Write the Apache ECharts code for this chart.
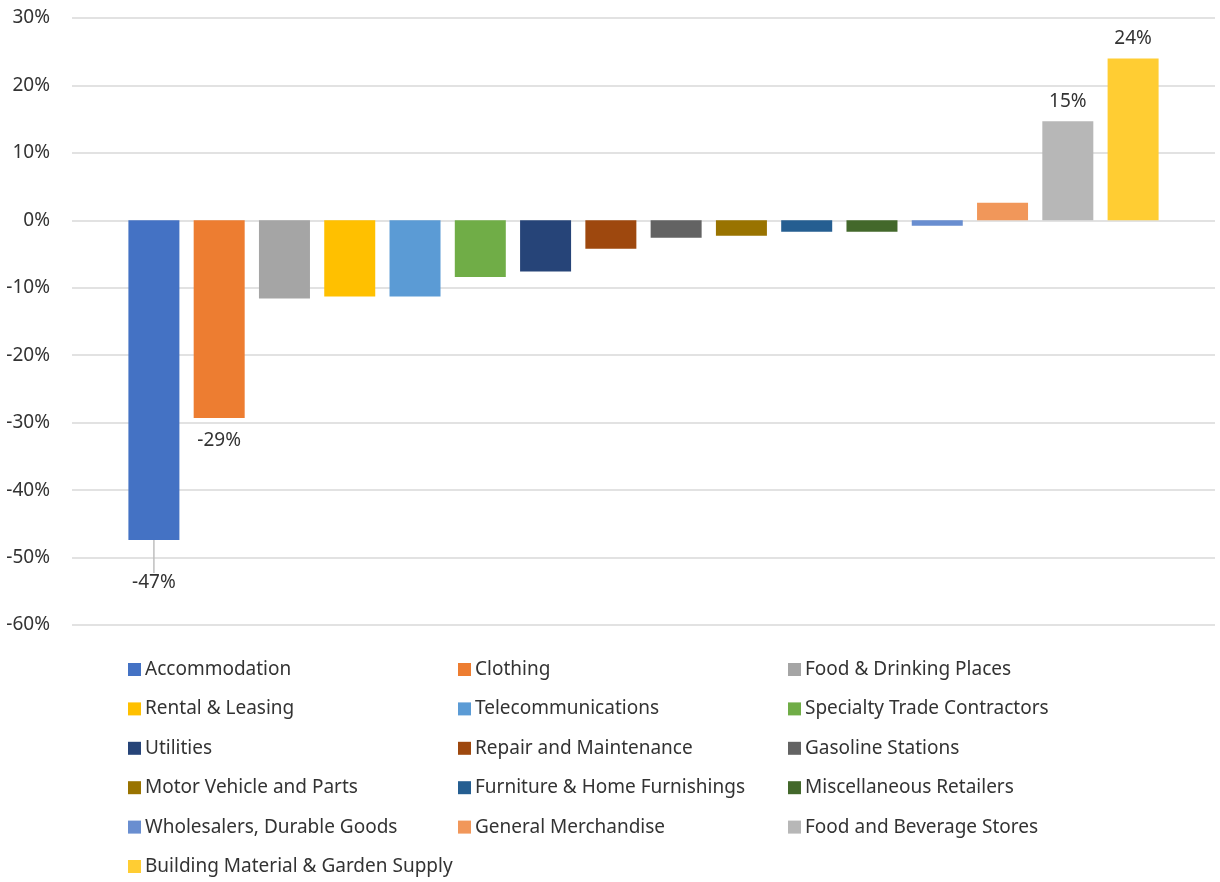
<!DOCTYPE html>
<html>
<head>
<meta charset="utf-8">
<script src="https://cdn.jsdelivr.net/npm/echarts@6/dist/echarts.min.js"></script>
<style>
  html, body { margin: 0; padding: 0; background: #fff; }
  #main { width: 1220px; height: 882px; }
</style>
</head>
<body>
<div id="main"></div>
<script>
// industries, sorted as in the chart
var names = ['Accommodation', 'Clothing', 'Food & Drinking Places', 'Rental & Leasing',
  'Telecommunications', 'Specialty Trade Contractors', 'Utilities', 'Repair and Maintenance',
  'Gasoline Stations', 'Motor Vehicle and Parts', 'Furniture & Home Furnishings',
  'Miscellaneous Retailers', 'Wholesalers, Durable Goods', 'General Merchandise',
  'Food and Beverage Stores', 'Building Material & Garden Supply'];
// percent change
var values = [-47.4, -29.3, -11.6, -11.3, -11.3, -8.4, -7.6, -4.2, -2.6, -2.3, -1.7, -1.7, -0.8, 2.6, 14.7, 24.0];
var colors = ['#4472C4', '#ED7D31', '#A5A5A5', '#FFC000', '#5B9BD5', '#70AD47', '#264478', '#9E480E',
  '#636363', '#997300', '#255E91', '#43682B', '#698ED0', '#F1975A', '#B7B7B7', '#FFCD33'];
// which bars get a data label
var labelled = ['Accommodation', 'Clothing', 'Food and Beverage Stores', 'Building Material & Garden Supply'];
var yTicks = { min: -60, max: 30, step: 10 };

var font = 'Noto Sans';
var txt = '#333333';

var series = names.map(function (n, i) {
  var s = {
    name: n,
    type: 'bar',
    data: [values[i]],
    barWidth: 51,
    barGap: '28%',
    itemStyle: { color: colors[i] },
    label: { show: false }
  };
  if (labelled.indexOf(n) >= 0) {
    s.label = {
      show: true,
      position: values[i] < 0 ? 'bottom' : 'top',
      distance: values[i] < 0 ? 13 : 10,
      fontFamily: font,
      fontSize: 19,
      color: txt,
      formatter: function (p) { return Math.round(p.value) + '%'; }
    };
  }
  if (i === 0) {
    s.labelLayout = { dy: 20 };
    s.labelLine = { show: true, lineStyle: { color: '#bfbfbf', width: 1.5 } };
  }
  return s;
});

// legend in three columns, like Excel lays it out
var cols = [[], [], []];
names.forEach(function (n, i) { cols[i % 3].push(n); });
var legends = cols.map(function (c, k) {
  return {
    data: c,
    orient: 'vertical',
    left: [123, 453, 783][k],
    top: 655,
    height: 260,
    itemWidth: 13,
    itemHeight: 13,
    itemGap: 20.4,
    icon: 'rect',
    selectedMode: false,
    textStyle: { fontFamily: font, fontSize: 19, color: txt, padding: [0, 0, 0, -1] }
  };
});

var chart = echarts.init(document.getElementById('main'));
chart.setOption({
  animation: false,
  grid: { left: 72, right: 5, top: 18, bottom: 257 },
  legend: legends,
  xAxis: {
    type: 'category',
    data: [''],
    axisLine: { show: false },
    axisTick: { show: false },
    axisLabel: { show: false }
  },
  yAxis: {
    type: 'value',
    min: yTicks.min,
    max: yTicks.max,
    interval: yTicks.step,
    axisLine: { show: false },
    axisTick: { show: false },
    splitLine: { lineStyle: { color: '#d9d9d9', width: 1.5 } },
    axisLabel: {
      margin: 22,
      fontFamily: font,
      fontSize: 19,
      color: txt,
      formatter: '{value}%'
    }
  },
  series: series
});
</script>
</body>
</html>
